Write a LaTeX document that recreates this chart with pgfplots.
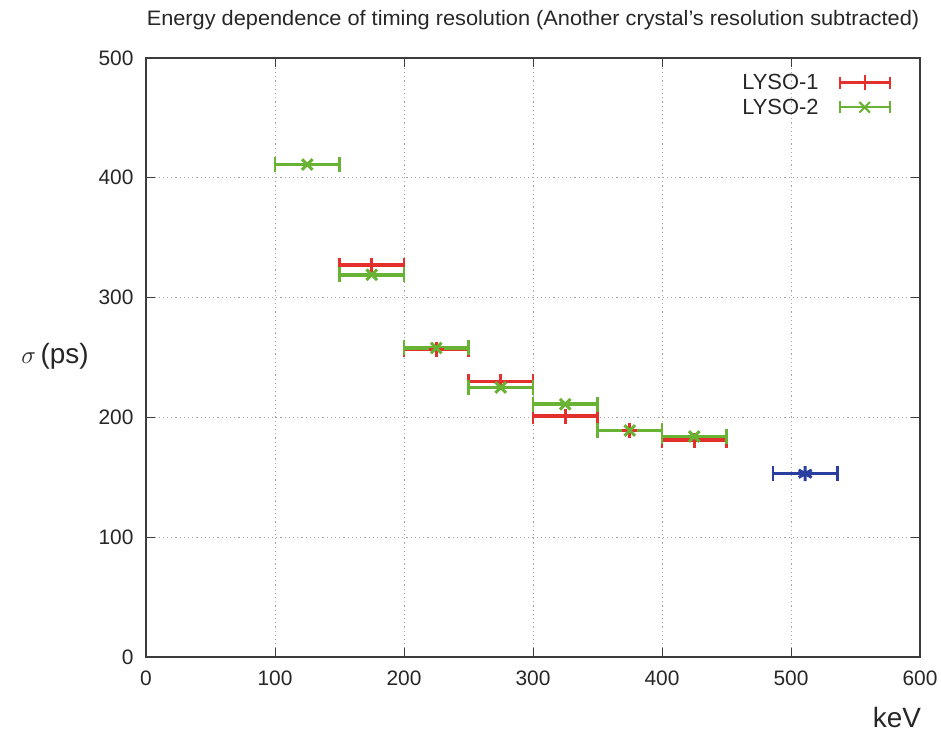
\documentclass[border=0pt]{standalone}
\usepackage{pgfplots}
\pgfplotsset{compat=1.18}
\usepackage{fontspec}
\setmainfont{Liberation Sans}

\definecolor{lysored}{RGB}{228,48,44}
\definecolor{lysogreen}{RGB}{104,178,52}
\definecolor{refblue}{RGB}{42,62,160}
\definecolor{framegray}{RGB}{60,60,60}

% legend sample: horizontal error bar with end caps and the point marker
\pgfplotsset{
  errbarlegend/.style={
    legend image code/.code={
      \draw[##1,mark=none,line width=2.2bp] (0bp,0bp) -- (50bp,0bp);
      \draw[##1,mark=none,line width=1.8bp] (0bp,-6bp) -- (0bp,6bp);
      \draw[##1,mark=none,line width=1.8bp] (50bp,-6bp) -- (50bp,6bp);
      \path[##1,line width=2bp] plot coordinates {(25bp,0bp)};
    }
  },
  errstyle/.style={
    only marks, mark size=7.5bp, line width=3bp, errbarlegend,
    error bars/.cd, x dir=both, x explicit,
    error bar style={line width=3.5bp},
    error mark=|, error mark options={mark size=7.5bp, line width=2.5bp}
  }
}

\begin{document}
\begin{tikzpicture}[x=1bp,y=1bp]
\path[use as bounding box] (0,0) rectangle (941,744);
\begin{axis}[
  at={(146bp,87bp)}, anchor=south west,
  scale only axis, width=774bp, height=599bp,
  xmin=0, xmax=600, ymin=0, ymax=500,
  xtick={0,100,...,600}, ytick={0,100,...,500},
  tick align=inside, major tick length=9bp,
  tick style={framegray, line width=1bp},
  axis line style={framegray, line width=1.6bp},
  grid=major,
  major grid style={gray!70, line width=0.8bp, dash pattern=on 1.2bp off 3bp},
  /pgf/number format/assume math mode=true,
  ticklabel style={font=\fontsize{21}{24}\selectfont, text=black!85},
  xticklabel style={yshift=-10bp},
  yticklabel style={xshift=-9bp},
  legend plot pos=right,
  legend cell align=right,
  legend style={draw=none, fill=none, at={(1,1)}, anchor=north east,
    xshift=-26bp, yshift=-12bp, row sep=4bp,
    /tikz/every odd column/.append style={column sep=18bp},
    font=\fontsize{22}{25}\selectfont, text=black!85},
]
\addplot[lysored, mark=+, errstyle] coordinates {
  (175,327) +- (25,0)
  (225,257) +- (25,0)
  (275,230) +- (25,0)
  (325,201) +- (25,0)
  (375,189) +- (25,0)
  (425,181) +- (25,0)
};
\addlegendentry{LYSO-1}
\addplot[lysogreen, mark=x, errstyle] coordinates {
  (125,411) +- (25,0)
  (175,319) +- (25,0)
  (225,258) +- (25,0)
  (275,225) +- (25,0)
  (325,211) +- (25,0)
  (375,189) +- (25,0)
  (425,184) +- (25,0)
};
\addlegendentry{LYSO-2}
\addplot[refblue, mark=asterisk, forget plot, errstyle] coordinates {
  (511,153) +- (25,0)
};
\end{axis}
\node[font=\fontsize{21}{24}\selectfont, text=black!85] at (533,724) {\scalebox{1.04}[1]{Energy dependence of timing resolution (Another crystal's resolution subtracted)}};
\node[font=\fontsize{28}{32}\selectfont, text=black!85] at (55,388) {$\sigma$\,(ps)};
\node[font=\fontsize{28}{32}\selectfont, text=black!85] at (897,26) {keV};
\end{tikzpicture}
\end{document}
